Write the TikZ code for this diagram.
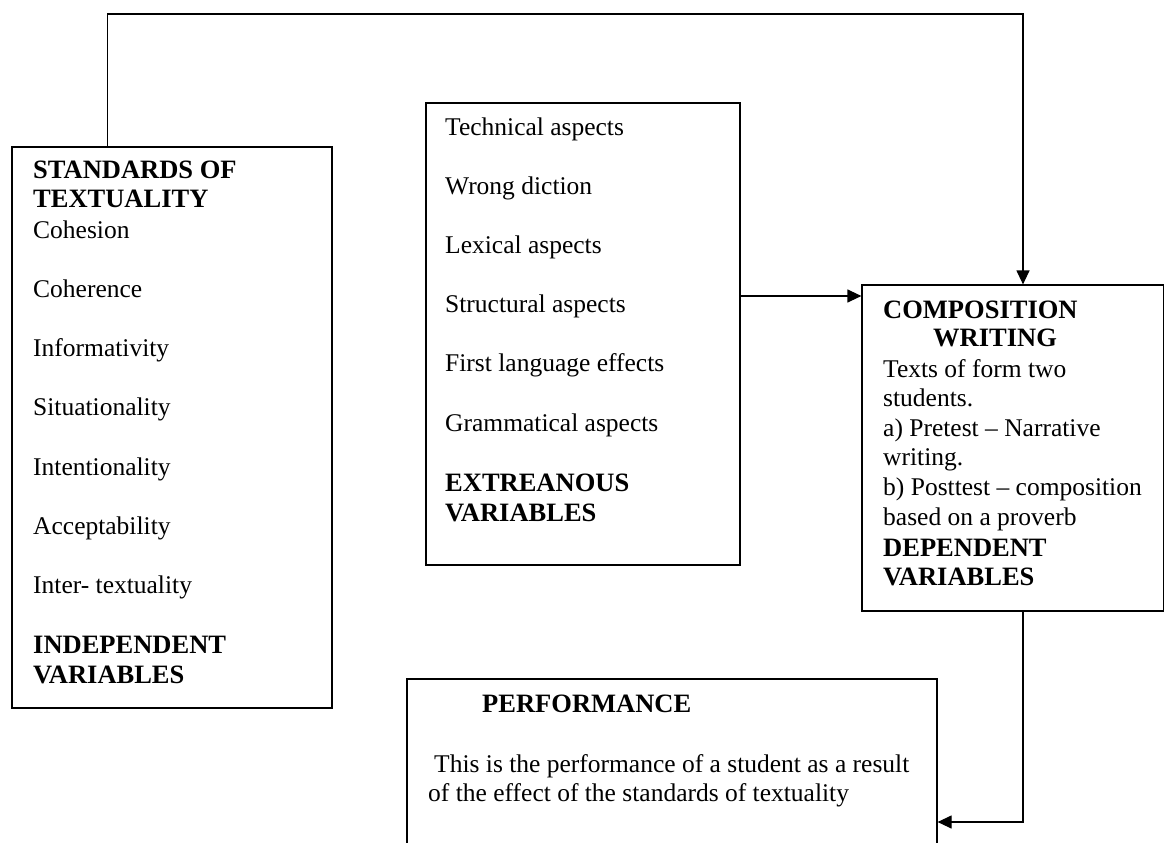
\documentclass[tikz,border=0pt]{standalone}
\usepackage{fontspec}
\setmainfont{Liberation Serif}
\usetikzlibrary{arrows.meta}
\tikzset{
    box/.style={draw, line width=1.2pt, inner sep=0pt},
    item/.style={anchor=base west, inner sep=0pt, font=\fontsize{25.5}{30}\selectfont},
    head/.style={item, font=\fontsize{26.5}{30}\selectfont\bfseries},
    link/.style={line width=1.2pt, -{Triangle[length=14pt,width=13pt]}},
}
\begin{document}
\begin{tikzpicture}[x=1pt,y=-1pt]
        \clip (0,0) rectangle (1165,843);
        % Kästen
        \node[box, minimum width=320pt, minimum height=561pt] (std) at (172,427.5) {};
        \node[box, minimum width=314pt, minimum height=462pt] (ext) at (583,334) {};
        \node[box, minimum width=301.5pt, minimum height=326pt] (comp) at (1012.75,448) {};
        \node[box, minimum width=530pt, minimum height=181pt] (perf) at (672,769.5) {};
        % Standards of textuality
        \node[head] (stdA) at (33,178) {STANDARDS OF};
        \node[head] (stdB) at (33,207) {TEXTUALITY};
        \foreach \t [count=\i] in {Cohesion,Coherence,Informativity,Situationality,
            Intentionality,Acceptability,Inter- textuality}
            \node[item] (std\i) at (33,{238+59.3*(\i-1)}) {\t};
        \node[head] (stdC) at (33,653) {INDEPENDENT};
        \node[head] (stdD) at (33,683) {VARIABLES};
        % Extraneous variables
        \foreach \t [count=\i] in {Technical aspects,Wrong diction,Lexical aspects,
            Structural aspects,First language effects,Grammatical aspects}
            \node[item] (ext\i) at (445,{135+59.2*(\i-1)}) {\t};
        \node[head] (extA) at (445,491) {EXTREANOUS};
        \node[head] (extB) at (445,521) {VARIABLES};
        % Composition writing
        \node[head] (compA) at (883,318) {COMPOSITION};
        \node[head] (compB) at (933,346) {WRITING};
        \foreach \t [count=\i] in {Texts of form two,students.,a) Pretest -- Narrative,
            writing.,b) Posttest -- composition,based on a proverb}
            \node[item] (comp\i) at (883,{377+29.6*(\i-1)}) {\t};
        \node[head] (compC) at (883,556) {DEPENDENT};
        \node[head] (compD) at (883,585) {VARIABLES};
        % Performance
        \node[head] (perfA) at (482,712) {PERFORMANCE};
        \node[item] (perf1) at (434,772) {This is the performance of a student as a result};
        \node[item] (perf2) at (428,801) {of the effect of the standards of textuality};
        % Pfeile
        \coordinate (top) at (1023,14);
        \coordinate (bend) at (1023,822);
        \draw[link] ([xshift=96pt]std.north west) |- (top) -- (top |- comp.north);
        \draw[link] ([yshift=38pt]ext.east) -- ([yshift=38pt]ext.east -| comp.west);
        \draw[link] (bend |- comp.south) -- (bend) -- (bend -| perf.east);
\end{tikzpicture}
\end{document}
